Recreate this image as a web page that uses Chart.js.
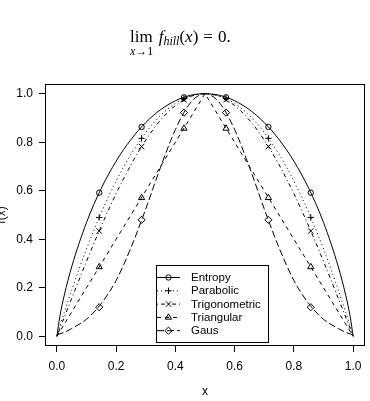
<!DOCTYPE html>
<html>
<head>
<meta charset="utf-8">
<script src="https://cdn.jsdelivr.net/npm/chart.js@4/dist/chart.umd.min.js"></script>
<style>
  html, body { margin: 0; padding: 0; background: #fff; }
  #wrap { position: relative; width: 370px; height: 401px; }
  canvas { display: block; }
  #formula {
    position: absolute; left: 130px; top: 27px;
    font-family: 'Liberation Serif', 'DejaVu Serif', serif;
    font-size: 17px; color: #000; white-space: nowrap;
  }
  #formula .lim { display: inline-block; position: relative; margin-right: 6px; }
  #formula .under {
    position: absolute; left: 0; top: 17px; font-size: 12px;
  }
  #formula sub { font-size: 12px; vertical-align: -3px; }
  #formula .eq { margin: 0 5px; }
</style>
</head>
<body>
<div id="wrap">
  <canvas id="chart" width="370" height="401"></canvas>
  <div id="formula"><span class="lim">lim<span class="under"><i>x</i>→1</span></span><i>f</i><sub><i>hill</i></sub>(<i>x</i>)<span class="eq">=</span>0.</div>
</div>
<script>
// curve samples (x positions) shared by all five functions
const xs = [0, 0.01, 0.025, 0.05, 0.1, 0.15, 0.2, 0.25, 0.3, 0.35, 0.4, 0.45, 0.5,
            0.55, 0.6, 0.65, 0.7, 0.75, 0.8, 0.85, 0.9, 0.95, 0.975, 0.99, 1];

const entropy = [0, 0.081, 0.169, 0.286, 0.469, 0.610, 0.722, 0.811, 0.881, 0.934, 0.971, 0.993, 1,
                 0.993, 0.971, 0.934, 0.881, 0.811, 0.722, 0.610, 0.469, 0.286, 0.169, 0.081, 0];
const parabolic = [0, 0.040, 0.098, 0.19, 0.36, 0.51, 0.64, 0.75, 0.84, 0.91, 0.96, 0.99, 1,
                   0.99, 0.96, 0.91, 0.84, 0.75, 0.64, 0.51, 0.36, 0.19, 0.098, 0.040, 0];
const trigonometric = [0, 0.031, 0.079, 0.156, 0.309, 0.454, 0.588, 0.707, 0.809, 0.891, 0.951, 0.988, 1,
                       0.988, 0.951, 0.891, 0.809, 0.707, 0.588, 0.454, 0.309, 0.156, 0.079, 0.031, 0];
const triangular = [0, 0.02, 0.05, 0.1, 0.2, 0.3, 0.4, 0.5, 0.6, 0.7, 0.8, 0.9, 1,
                    0.9, 0.8, 0.7, 0.6, 0.5, 0.4, 0.3, 0.2, 0.1, 0.05, 0.02, 0];
const gaus = [0.005, 0.01, 0.016, 0.032, 0.07, 0.135, 0.23, 0.365, 0.525, 0.697, 0.852, 0.961, 1,
              0.961, 0.852, 0.697, 0.525, 0.365, 0.23, 0.135, 0.07, 0.032, 0.016, 0.01, 0.005];

// marker positions
const markX = [0.143, 0.286, 0.429, 0.571, 0.714, 0.857];
const entropyMarks = [0.592, 0.863, 0.985, 0.985, 0.863, 0.592];
const parabolicMarks = [0.49, 0.816, 0.98, 0.98, 0.816, 0.49];
const trigMarks = [0.434, 0.782, 0.975, 0.975, 0.782, 0.434];
const triMarks = [0.286, 0.571, 0.857, 0.857, 0.571, 0.286];
const gausMarks = [0.12, 0.48, 0.922, 0.922, 0.48, 0.12];

const xTicks = [0, 0.2, 0.4, 0.6, 0.8, 1.0];
const yTicks = [0, 0.2, 0.4, 0.6, 0.8, 1.0];

const series = [
  { label: 'Entropy',       curve: entropy,       marks: entropyMarks,   dash: [],           style: 'circle',   r: 2.7, smooth: true },
  { label: 'Parabolic',     curve: parabolic,     marks: parabolicMarks, dash: [1, 3],       style: 'cross',    r: 3.2, smooth: true },
  { label: 'Trigonometric', curve: trigonometric, marks: trigMarks,      dash: [1, 3, 4, 3], style: 'crossRot', r: 3.8, smooth: true },
  { label: 'Triangular',    curve: triangular,    marks: triMarks,       dash: [4, 4],       style: 'triangle', r: 3.6, smooth: false },
  { label: 'Gaus',          curve: gaus,          marks: gausMarks,      dash: [7, 3],       style: 'rectRot',  r: 3.6, smooth: true }
];

function toPoints(xv, yv) {
  return xv.map((x, i) => ({ x: x, y: yv[i] }));
}

const datasets = [];
series.forEach(s => {
  datasets.push({
    data: toPoints(xs, s.curve),
    borderColor: '#000',
    borderWidth: 1,
    borderDash: s.dash,
    pointRadius: 0,
    fill: false,
    cubicInterpolationMode: s.smooth ? 'monotone' : 'default',
    tension: 0
  });
});
series.forEach(s => {
  datasets.push({
    data: toPoints(markX, s.marks),
    showLine: false,
    pointStyle: s.style,
    pointRadius: s.r,
    pointBorderColor: '#000',
    pointBackgroundColor: 'rgba(0,0,0,0)',
    pointBorderWidth: 1
  });
});

function drawMarker(ctx, style, r, x, y) {
  if (Chart.helpers && Chart.helpers.drawPoint) {
    Chart.helpers.drawPoint(ctx, { pointStyle: style, radius: r, rotation: 0, borderWidth: 1 }, x, y);
  }
}

const frameAndLegend = {
  id: 'frameAndLegend',
  afterDraw(chart) {
    const ctx = chart.ctx;
    const a = chart.chartArea;
    ctx.save();
    ctx.strokeStyle = '#000';
    ctx.lineWidth = 1;
    ctx.strokeRect(Math.round(a.left) + 0.5, Math.round(a.top) + 0.5,
                   Math.round(a.right - a.left) - 1, Math.round(a.bottom - a.top) - 1);

    // legend box
    const lx = 156.5, ly = 265.5, lw = 112, lh = 77;
    ctx.fillStyle = '#fff';
    ctx.fillRect(lx, ly, lw, lh);
    ctx.strokeRect(lx, ly, lw, lh);
    ctx.font = "11.5px 'Liberation Sans', Arial, sans-serif";
    ctx.textBaseline = 'middle';
    ctx.textAlign = 'left';
    series.forEach((s, i) => {
      const y = 277.5 + i * 13.3;
      ctx.setLineDash(s.dash);
      ctx.beginPath();
      ctx.moveTo(157, y);
      ctx.lineTo(180, y);
      ctx.stroke();
      ctx.setLineDash([]);
      ctx.fillStyle = 'rgba(0,0,0,0)';
      drawMarker(ctx, s.style, s.r, 168.5, y);
      ctx.fillStyle = '#000';
      ctx.fillText(s.label, 191, y + 0.5);
    });
    ctx.restore();
  }
};

Chart.defaults.font.family = "'Liberation Sans', Arial, sans-serif";
Chart.defaults.font.size = 12;
Chart.defaults.color = '#000';

new Chart(document.getElementById('chart').getContext('2d'), {
  type: 'line',
  data: { datasets: datasets },
  options: {
    responsive: false,
    animation: false,
    layout: { padding: { top: 84, right: 2, left: 0, bottom: 0 } },
    plugins: { legend: { display: false }, tooltip: { enabled: false } },
    scales: {
      x: {
        type: 'linear', min: -0.04, max: 1.04,
        afterBuildTicks: s => { s.ticks = xTicks.map(v => ({ value: v })); },
        afterFit: s => { s.height = 55; },
        grid: { drawOnChartArea: false, color: '#000', tickLength: 6 },
        border: { display: false },
        ticks: { padding: 7, maxRotation: 0, callback: v => v.toFixed(1) },
        title: { display: true, text: 'x', padding: { top: 0, bottom: 2 } }
      },
      y: {
        type: 'linear', min: -0.04, max: 1.04,
        afterBuildTicks: s => { s.ticks = yTicks.map(v => ({ value: v })); },
        afterFit: s => { s.width = 45; },
        grid: { drawOnChartArea: false, color: '#000', tickLength: 6 },
        border: { display: false },
        ticks: { padding: 6, callback: v => v.toFixed(1) },
        title: { display: true, text: 'f(x)', padding: { top: -6, bottom: 0 } }
      }
    }
  },
  plugins: [frameAndLegend]
});
</script>
</body>
</html>
